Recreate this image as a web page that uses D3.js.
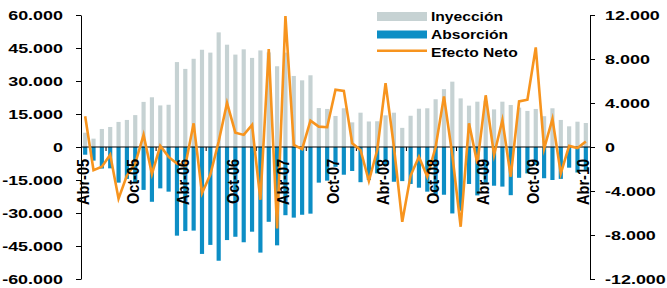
<!DOCTYPE html>
<html><head><meta charset="utf-8">
<script src="https://cdn.jsdelivr.net/npm/d3@7"></script>
<style>
body{margin:0;background:#fff}
text{font-family:"Liberation Sans",Arial,sans-serif;font-weight:bold;fill:#000}
</style>
</head><body><svg id="c" width="667" height="288"></svg>
<script>
const months = ["Abr-05","May-05","Jun-05","Jul-05","Ago-05","Sep-05","Oct-05","Nov-05","Dic-05","Ene-06","Feb-06","Mar-06",
"Abr-06","May-06","Jun-06","Jul-06","Ago-06","Sep-06","Oct-06","Nov-06","Dic-06","Ene-07","Feb-07","Mar-07",
"Abr-07","May-07","Jun-07","Jul-07","Ago-07","Sep-07","Oct-07","Nov-07","Dic-07","Ene-08","Feb-08","Mar-08",
"Abr-08","May-08","Jun-08","Jul-08","Ago-08","Sep-08","Oct-08","Nov-08","Dic-08","Ene-09","Feb-09","Mar-09",
"Abr-09","May-09","Jun-09","Jul-09","Ago-09","Sep-09","Oct-09","Nov-09","Dic-09","Ene-10","Feb-10","Mar-10","Abr-10"];
const inyeccion = [6500,3800,8200,9100,11400,12300,14500,20500,22600,18900,19200,38600,35500,40100,44200,42900,52100,46500,42000,44400,40500,43900,43000,36700,42900,32300,30300,32600,17700,17300,14100,17600,11200,15600,11600,11700,14400,15600,8700,14200,17400,17600,21700,26300,29700,22100,18800,20600,21000,17100,20600,19100,17900,16400,17300,14000,17600,12300,9400,11500,10900];
const absorcion = [-3500,-6200,-9800,-9700,-16200,-14500,-16000,-19500,-24900,-18800,-20300,-40300,-38200,-38000,-48600,-44500,-51700,-42300,-40800,-43300,-38500,-48000,-34000,-44700,-31000,-32100,-30800,-30300,-16200,-15300,-9000,-12600,-10900,-16000,-15000,-12000,-8600,-15800,-15500,-16800,-18500,-20300,-21800,-21700,-30200,-29000,-16800,-22000,-16300,-17600,-18000,-21900,-14000,-12000,-8300,-14200,-15000,-14500,-9400,-11600,-10400];
const efectoNeto = [2800,-2100,-1800,-700,-4700,-2600,-1500,1100,-2450,100,-900,-1500,-1700,2150,-4200,-2500,500,4000,1300,1100,2000,-4800,8900,-7400,11900,180,-200,2400,1850,1800,5200,5100,340,-270,-3100,-270,5800,30,-6800,-2600,-880,-2700,0,4600,-730,-7250,2150,-1500,4700,-730,2450,-2700,4150,4300,9050,-150,2550,-2400,100,-100,500];
const xTickLabels = ["Abr-05","Oct-05","Abr-06","Oct-06","Abr-07","Oct-07","Abr-08","Oct-08","Abr-09","Oct-09","Abr-10"];
const leftTicks = [-60000,-45000,-30000,-15000,0,15000,30000,45000,60000];
const rightTicks = [-12000,-8000,-4000,0,4000,8000,12000];
const legendLabels = ["Inyección","Absorción","Efecto Neto"];

const colGray = "#c6d2d3", colBlue = "#0d8ec5", colOrange = "#f7941e";

const svg = d3.select("#c");
const x = d3.scaleBand().domain(months).range([81,590]).paddingInner(0.5).paddingOuter(0.25);
const yL = d3.scaleLinear().domain([-60000,60000]).range([279,15]);
const yR = d3.scaleLinear().domain([-12000,12000]).range([279,15]);
const fmt = d3.formatLocale({decimal:",",thousands:".",grouping:[3],currency:["",""],minus:"-"}).format(",");

// bars
svg.append("g").selectAll("rect").data(months).join("rect")
  .attr("x", d=>x(d)).attr("width", x.bandwidth())
  .attr("y", (d,i)=>yL(inyeccion[i])).attr("height", (d,i)=>yL(0)-yL(inyeccion[i]))
  .attr("fill", colGray);
svg.append("g").selectAll("rect").data(months).join("rect")
  .attr("x", d=>x(d)).attr("width", x.bandwidth())
  .attr("y", yL(0)).attr("height", (d,i)=>yL(absorcion[i])-yL(0))
  .attr("fill", colBlue);

// zero line
svg.append("line").attr("x1",81).attr("x2",590).attr("y1",yL(0)).attr("y2",yL(0))
  .attr("stroke","#000").attr("stroke-width",1.2);
// small ticks on zero line
const gap = (x.step()-x.bandwidth())/2;
svg.append("g").selectAll("line").data(months.filter((d,i)=>i%6===3)).join("line")
  .attr("x1", d=>x(d)-gap).attr("x2", d=>x(d)-gap)
  .attr("y1", yL(0)).attr("y2", yL(0)+4).attr("stroke","#000").attr("stroke-width",1);

// line
const line = d3.line().x((d,i)=>x(months[i])+x.bandwidth()/2).y(d=>yR(d));
svg.append("path").datum(efectoNeto).attr("d", line).attr("fill","none")
  .attr("stroke", colOrange).attr("stroke-width", 2.6).attr("stroke-linejoin","miter").attr("stroke-miterlimit",6);

// axes
const gl = svg.append("g").attr("transform","translate(81,0)")
  .call(d3.axisLeft(yL).tickValues(leftTicks).tickSize(5).tickSizeOuter(0).tickFormat(fmt));
const gr = svg.append("g").attr("transform","translate(590,0)")
  .call(d3.axisRight(yR).tickValues(rightTicks).tickSize(5).tickSizeOuter(0).tickFormat(fmt));
[gl,gr].forEach(g=>{
  g.select(".domain").attr("stroke","#000").attr("stroke-width",1);
  g.selectAll(".tick line").attr("stroke","#000");
  g.selectAll("text").attr("font-family",null).attr("font-size",null)
    .style("font-size","13px").style("font-weight","bold").attr("fill","#000");
});
gl.selectAll("text").attr("x",null).attr("transform","translate(-18,0) scale(1.38,1)").attr("text-anchor","end");
gr.selectAll("text").attr("x",null).attr("transform","translate(15,0) scale(1.38,1)").attr("text-anchor","start");
gl.attr("font-family",null).attr("font-size",null);
gr.attr("font-family",null).attr("font-size",null);

// x labels
svg.append("g").selectAll("text").data(xTickLabels).join("text")
  .attr("transform", d=>`translate(${x(d)+x.bandwidth()/2+3.5},159) scale(1.15,1) rotate(-90)`)
  .attr("text-anchor","end").style("font-size","14.5px").text(d=>d);

// legend
const lg = svg.append("g");
lg.append("rect").attr("x",377).attr("y",12).attr("width",50).attr("height",9).attr("fill",colGray);
lg.append("rect").attr("x",377).attr("y",30.5).attr("width",50).attr("height",8).attr("fill",colBlue);
lg.append("line").attr("x1",377).attr("x2",427).attr("y1",50.7).attr("y2",50.7).attr("stroke",colOrange).attr("stroke-width",2.6);
lg.selectAll("text").data(legendLabels).join("text")
  .attr("transform",(d,i)=>`translate(431,${[21,38.5,56.5][i]}) scale(1.25,1)`)
  .style("font-size","12.5px").text(d=>d);
</script>
</body></html>
